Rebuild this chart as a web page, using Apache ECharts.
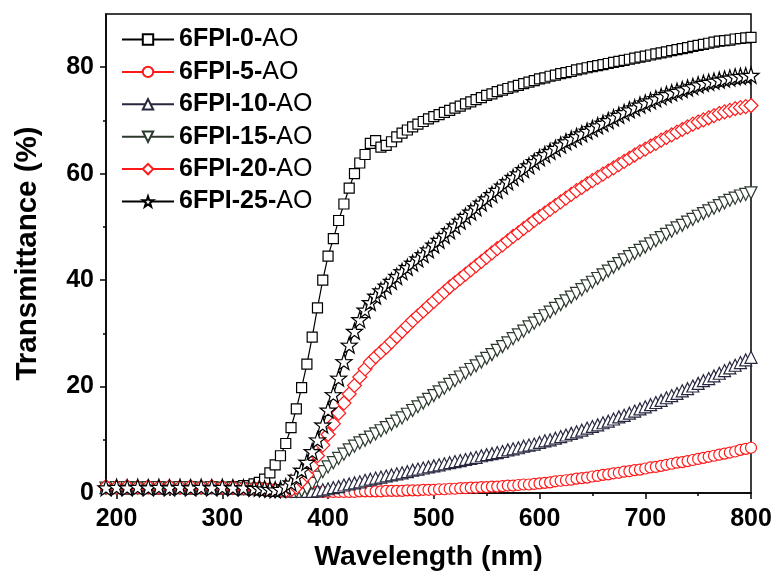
<!DOCTYPE html>
<html>
<head>
<meta charset="utf-8">
<script src="https://cdn.jsdelivr.net/npm/echarts@6/dist/echarts.min.js"></script>
<style>
html,body{margin:0;padding:0;background:#fff;}
#c{width:779px;height:583px;}
</style>
</head>
<body>
<div id="c"></div>
<script>
// Wavelength grid (nm)
var wavelengths = [190,200,210,220,230,240,250,260,270,280,290,300,310,320,330,
 335,340,345,350,355,360,365,370,375,380,385,390,395,400,405,410,415,420,425,430,435,440,445,450,
 455,460,465,470,475,480,485,490,495,500,505,510,515,520,525,530,535,540,545,550,555,560,565,570,
 575,580,585,590,595,600,605,610,615,620,625,630,635,640,645,650,655,660,665,670,675,680,685,690,
 695,700,705,710,715,720,725,730,735,740,745,750,755,760,765,770,775,780,785,790,795,800];

var seriesNames = ['6FPI-0','6FPI-5','6FPI-10','6FPI-15','6FPI-20','6FPI-25'];

var t0 = [1.0,0.9,1.0,1.1,0.9,1.0,1.0,0.9,1.0,1.0,1.1,1.0,1.2,1.4,1.7,
 2.0,2.6,3.8,5.3,7.0,9.3,12.3,15.8,19.8,24.2,29.3,34.8,40.0,44.5,47.8,51.2,54.3,57.3,60.0,62.0,63.6,65.7,66.2,65.0,
 65.3,66.0,66.9,67.6,68.2,68.8,69.3,69.8,70.3,70.7,71.1,71.5,71.9,72.3,72.7,73.1,73.5,73.9,74.3,74.7,75.0,75.4,75.7,76.0,
 76.3,76.6,76.9,77.2,77.5,77.8,78.0,78.3,78.5,78.8,79.0,79.2,79.5,79.7,79.9,80.1,80.3,80.5,80.7,80.9,81.1,81.3,81.5,81.7,
 81.9,82.1,82.3,82.5,82.7,82.9,83.1,83.3,83.5,83.7,83.9,84.1,84.3,84.5,84.7,84.9,85.0,85.1,85.3,85.4,85.5,85.6];

var t5 = [1.1,1.0,1.1,1.0,1.1,1.0,1.1,1.0,1.1,1.0,1.1,1.0,1.0,0.9,0.8,
 0.7,0.6,0.5,0.4,0.4,0.3,0.3,0.3,0.2,0.2,0.2,0.2,0.2,0.2,0.2,0.2,0.2,0.2,0.2,0.3,0.3,0.3,0.3,0.3,
 0.4,0.4,0.4,0.4,0.5,0.5,0.5,0.6,0.6,0.6,0.7,0.7,0.8,0.8,0.9,0.9,1.0,1.0,1.1,1.1,1.2,1.2,1.3,1.4,
 1.4,1.5,1.6,1.6,1.7,1.8,1.9,2.0,2.2,2.3,2.4,2.5,2.7,2.8,2.9,3.1,3.2,3.4,3.5,3.7,3.8,4.0,4.1,4.3,
 4.4,4.6,4.8,4.9,5.1,5.3,5.5,5.7,5.8,6.0,6.2,6.4,6.6,6.8,7.0,7.2,7.4,7.6,7.8,8.1,8.3,8.5];

var t10 = [1.0,1.0,0.9,1.0,1.0,0.9,1.0,1.0,0.9,1.0,1.0,0.9,0.9,0.8,0.8,
 0.8,0.7,0.6,0.5,0.5,0.4,0.4,0.3,0.3,0.3,0.3,0.4,0.6,0.8,1.0,1.2,1.5,1.7,1.9,2.1,2.4,2.6,2.8,3.0,
 3.2,3.4,3.6,3.8,4.0,4.3,4.5,4.7,4.9,5.1,5.3,5.5,5.7,5.9,6.1,6.3,6.5,6.7,7.0,7.2,7.4,7.6,7.8,8.1,
 8.3,8.5,8.8,9.0,9.2,9.5,9.8,10.0,10.3,10.6,10.9,11.2,11.5,11.8,12.2,12.5,12.8,13.2,13.5,13.9,14.3,14.6,15.0,15.4,
 15.8,16.2,16.6,17.0,17.4,17.9,18.3,18.7,19.2,19.6,20.1,20.6,21.1,21.5,22.0,22.5,23.0,23.5,24.0,24.5,25.0,25.5];

var t15 = [0.9,1.0,1.0,0.9,1.0,1.0,0.9,1.0,1.0,0.9,1.0,0.9,0.9,0.8,0.7,
 0.8,0.6,0.5,0.4,0.3,0.3,0.3,0.3,0.4,0.8,1.8,3.0,4.0,4.9,5.7,6.5,7.3,8.1,8.8,9.4,9.9,10.5,11.1,11.7,
 12.3,12.9,13.5,14.1,14.8,15.5,16.2,16.9,17.6,18.3,19.0,19.7,20.4,21.1,21.8,22.5,23.2,23.9,24.6,25.3,26.0,26.8,27.5,28.2,
 29.0,29.7,30.4,31.2,31.9,32.6,33.3,34.0,34.7,35.4,36.1,36.8,37.5,38.2,38.9,39.6,40.3,41.0,41.7,42.4,43.1,43.8,44.4,45.0,
 45.6,46.2,46.8,47.4,48.0,48.6,49.2,49.8,50.3,50.9,51.4,52.0,52.5,53.0,53.5,54.0,54.5,55.0,55.4,55.8,56.1,56.4];

var t20 = [1.2,1.1,1.2,1.1,1.2,1.1,1.2,1.1,1.2,1.1,1.2,1.1,1.1,1.0,0.9,
 0.9,0.8,0.7,0.6,0.5,0.5,0.6,1.1,2.2,3.4,5.0,7.0,9.0,11.0,13.0,15.0,16.9,18.6,20.2,21.8,23.3,24.6,25.6,26.5,
 27.4,28.4,29.4,30.4,31.4,32.4,33.3,34.2,35.1,36.0,36.9,37.8,38.7,39.5,40.3,41.1,41.9,42.7,43.5,44.3,45.1,45.9,46.6,47.4,
 48.2,48.9,49.7,50.4,51.2,51.9,52.6,53.3,54.0,54.7,55.4,56.1,56.8,57.4,58.1,58.7,59.3,59.9,60.5,61.1,61.7,62.3,62.9,63.5,
 64.1,64.6,65.2,65.7,66.3,66.8,67.3,67.8,68.3,68.8,69.3,69.7,70.1,70.5,70.9,71.3,71.6,71.9,72.2,72.4,72.6,72.8];

var t25 = [1.0,1.1,1.0,1.1,1.0,1.1,1.0,1.1,1.0,1.1,1.0,1.1,1.0,1.0,0.9,
 0.9,0.8,0.7,0.6,0.7,1.2,1.9,3.0,4.3,5.8,7.8,10.0,12.8,15.6,18.5,21.6,24.7,27.8,30.4,32.6,34.4,35.8,37.0,38.0,
 38.9,39.8,40.7,41.6,42.4,43.2,44.0,44.8,45.7,46.6,47.5,48.4,49.3,50.2,51.1,52.0,52.8,53.6,54.5,55.3,56.1,56.9,57.7,58.5,
 59.3,60.0,60.8,61.5,62.3,63.0,63.6,64.2,64.8,65.4,66.0,66.5,67.0,67.5,68.0,68.5,69.0,69.5,70.0,70.5,71.0,71.5,72.0,72.4,
 72.9,73.3,73.7,74.1,74.5,74.9,75.2,75.5,75.8,76.1,76.4,76.7,77.0,77.2,77.4,77.6,77.8,78.0,78.2,78.3,78.4,78.5];

var xMajorTicks = [200,300,400,500,600,700,800];
var xMinorTicks = [250,350,450,550,650,750];
var yMajorTicks = [0,20,40,60,80];
var yMinorTicks = [10,30,50,70];

var allValues = [t0,t5,t10,t15,t20,t25];
var styles = [
  {symbol:'rect', size:10, color:'#000000', rotate:0},
  {symbol:'circle', size:11, color:'#ff1a1a', rotate:0},
  {symbol:'triangle', size:12, color:'#26263f', rotate:0},
  {symbol:'triangle', size:12, color:'#2c3a2c', rotate:180},
  {symbol:'diamond', size:14, color:'#ff1a1a', rotate:0},
  {symbol:'path://M50,0 L61.8,35.1 L97.6,34.5 L69,56.5 L79.4,90.5 L50,70 L20.6,90.5 L31,56.5 L2.4,34.5 L38.2,35.1 Z', size:16, color:'#000000', rotate:0}
];

var FONT = "'Liberation Sans', Arial, sans-serif";

var series = seriesNames.map(function(name, i){
  var vals = allValues[i];
  var st = styles[i];
  return {
    name: name + '-AO',
    type: 'line',
    data: wavelengths.map(function(w, k){ return [w, vals[k]]; }),
    symbol: st.symbol,
    symbolSize: st.size,
    symbolRotate: st.rotate,
    showSymbol: true,
    showAllSymbol: true,
    lineStyle: {color: st.color, width: 1.2},
    itemStyle: {color: '#ffffff', borderColor: st.color, borderWidth: 1.2},
    emphasis: {disabled: true},
    z: 2 + i
  };
});

var chart = echarts.init(document.getElementById('c'), null, {renderer:'canvas'});
chart.setOption({
  animation: false,
  backgroundColor: '#ffffff',
  grid: {left:106, right:28, top:14, bottom:90, show:true, borderColor:'#000', borderWidth:1.5, backgroundColor:'transparent'},
  legend: {
    left: 116, top: 22, orient: 'vertical',
    itemWidth: 52, itemHeight: 13, itemGap: 7.4,
    data: seriesNames.map(function(n){return n+'-AO';}),
    formatter: function(name){ var p = name.split('-AO')[0]; return '{b|' + p + '-}{n|AO}'; },
    textStyle: {
      fontSize: 25,
      rich: {
        b: {fontFamily: FONT, fontWeight:'bold', fontSize:25, color:'#000'},
        n: {fontFamily: FONT, fontWeight:'normal', fontSize:25, color:'#000'}
      }
    }
  },
  xAxis: [{
    type:'value', min:190, max:800,
    axisLine:{show:true, lineStyle:{color:'#000', width:1.5}},
    axisTick:{show:true, inside:false, length:6, lineStyle:{color:'#000', width:1.5}, customValues: xMajorTicks},
    axisLabel:{show:true, margin:14, fontFamily:FONT, fontWeight:'bold', fontSize:25, color:'#000', customValues: xMajorTicks},
    splitLine:{show:false},
    name:'Wavelength (nm)', nameLocation:'middle', nameGap:50,
    nameTextStyle:{fontFamily:FONT, fontWeight:'bold', fontSize:28.5, color:'#000'}
  },{
    type:'value', min:190, max:800, position:'bottom',
    axisLine:{show:false},
    axisTick:{show:true, inside:false, length:3, lineStyle:{color:'#000', width:1.5}, customValues: xMinorTicks},
    axisLabel:{show:false},
    splitLine:{show:false}
  }],
  yAxis: [{
    type:'value', min:0, max:90,
    axisLine:{show:true, lineStyle:{color:'#000', width:1.5}},
    axisTick:{show:true, inside:false, length:6, lineStyle:{color:'#000', width:1.5}, customValues: yMajorTicks},
    axisLabel:{show:true, margin:12, fontFamily:FONT, fontWeight:'bold', fontSize:25, color:'#000', customValues: yMajorTicks},
    splitLine:{show:false},
    name:'Transmittance (%)', nameLocation:'middle', nameGap:63, nameRotate:90,
    nameTextStyle:{fontFamily:FONT, fontWeight:'bold', fontSize:29.5, color:'#000'}
  },{
    type:'value', min:0, max:90, position:'left',
    axisLine:{show:false},
    axisTick:{show:true, inside:false, length:3, lineStyle:{color:'#000', width:1.5}, customValues: yMinorTicks},
    axisLabel:{show:false},
    splitLine:{show:false}
  }],
  series: series
});
</script>
</body>
</html>
